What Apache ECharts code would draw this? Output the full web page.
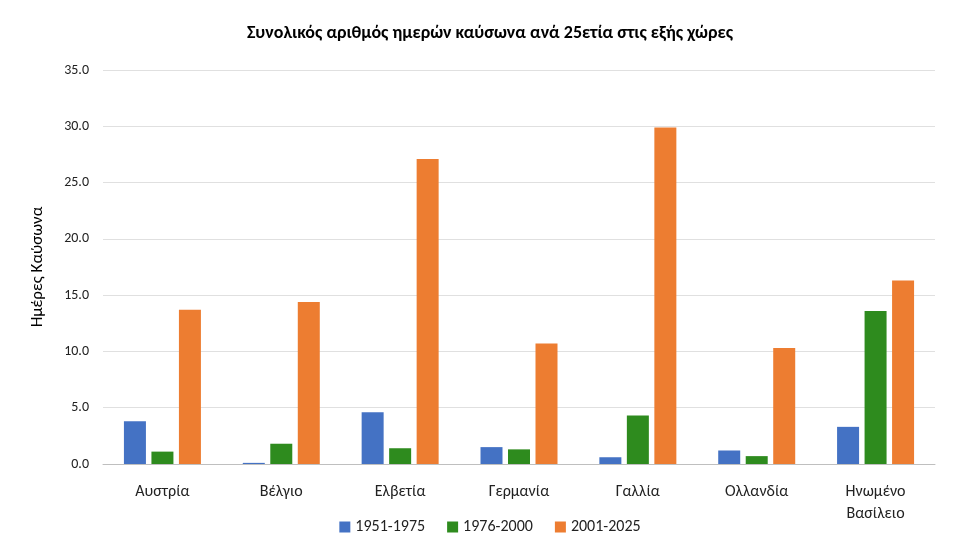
<!DOCTYPE html>
<html><head><meta charset="utf-8">
<script src="https://cdn.jsdelivr.net/npm/echarts@6/dist/echarts.min.js"></script>
<style>html,body{margin:0;padding:0;background:#fff}#c{width:980px;height:551px}</style>
</head><body><div id="c"></div>
<script>
const categories = ['Αυστρία','Βέλγιο','Ελβετία','Γερμανία','Γαλλία','Ολλανδία','Ηνωμένο\nΒασίλειο'];
const s1951 = [3.8, 0.1, 4.6, 1.5, 0.6, 1.2, 3.3];
const s1976 = [1.1, 1.8, 1.4, 1.3, 4.3, 0.7, 13.6];
const s2001 = [13.7, 14.4, 27.1, 10.7, 29.9, 10.3, 16.3];
const seriesNames = ['1951-1975','1976-2000','2001-2025'];
const colors = ['#4472C4','#2E8B1E','#ED7D31'];
const font = 'Carlito, Calibri, "Open Sans", sans-serif';
const chart = echarts.init(document.getElementById('c'));
chart.setOption({
  animation:false,
  textStyle:{fontFamily:font},
  title:{text:'Συνολικός αριθμός ημερών καύσωνα ανά 25ετία στις εξής χώρες',left:'center',top:19,
    textStyle:{fontSize:18,fontWeight:'bold',color:'#000',fontFamily:font}},
  legend:{bottom:11,itemWidth:11,itemHeight:11,itemGap:22,icon:'rect',
    textStyle:{fontSize:16,color:'#222',fontFamily:font}},
  grid:{left:103,right:45,top:70,bottom:87},
  xAxis:{type:'category',data:categories,
    axisLine:{lineStyle:{color:'#bfbfbf'}},axisTick:{show:false},
    axisLabel:{fontSize:16,color:'#222',margin:17,lineHeight:22,fontFamily:font}},
  yAxis:{type:'value',min:0,max:35,interval:5,name:'Ημέρες Καύσωνα',nameLocation:'middle',nameGap:57,
    nameTextStyle:{fontSize:17,color:'#000',fontFamily:font},
    axisLabel:{formatter:v=>v.toFixed(1),fontSize:14,color:'#222',margin:14,fontFamily:font},
    splitLine:{lineStyle:{color:'#e0e0e0'}}},
  series:[s1951,s1976,s2001].map((d,i)=>({name:seriesNames[i],type:'bar',data:d,barWidth:22,barGap:'25%',
    itemStyle:{color:colors[i]}}))
});
</script></body></html>
